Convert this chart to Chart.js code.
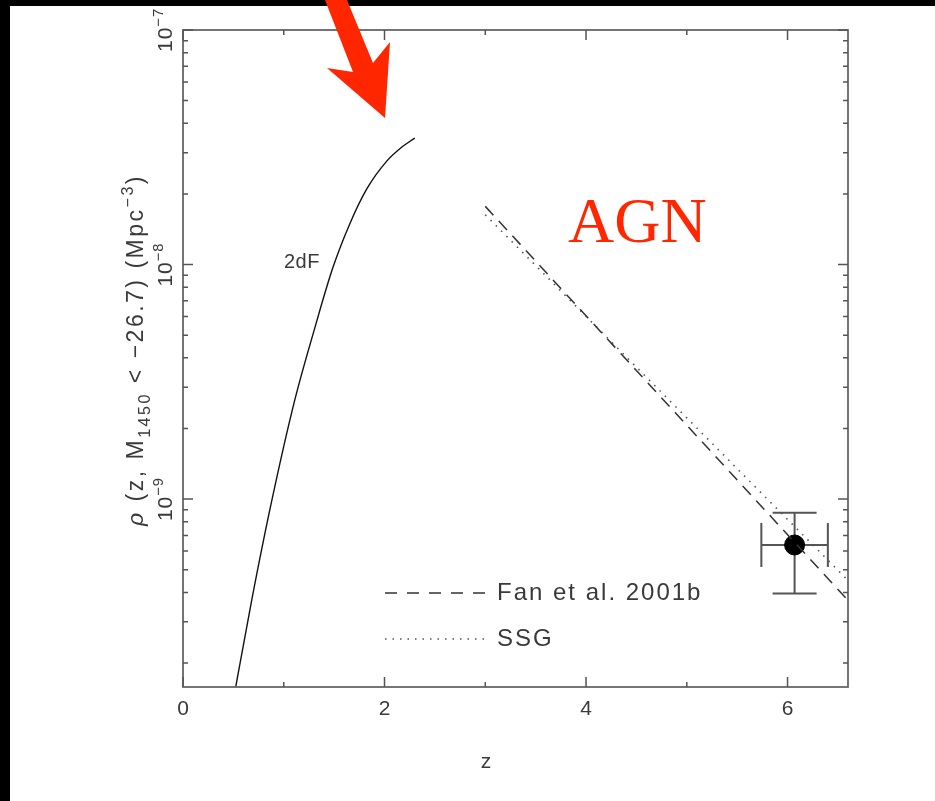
<!DOCTYPE html>
<html>
<head>
<meta charset="utf-8">
<title>QSO space density vs redshift</title>
<script src="https://cdn.jsdelivr.net/npm/chart.js@4.4.1/dist/chart.umd.min.js"></script>
<style>
    html, body { margin: 0; padding: 0; background: #fff; }
    canvas { display: block; }
</style>
</head>
<body>
<canvas id="chart" width="935" height="801"></canvas>
<script>
// 2dF curve
const zTwoDF   = [0.51, 0.523, 0.682, 0.880, 1.109, 1.299, 1.486, 1.655, 1.824, 2.022, 2.161, 2.300];
const rhoTwoDF = [1.47e-10, 1.58e-10, 3.71e-10, 9.79e-10, 2.64e-9, 5.20e-9, 9.66e-9, 1.49e-8, 2.10e-8, 2.76e-8, 3.14e-8, 3.46e-8];

// Fan et al. 2001b (dashed) and SSG (dotted)
const zFan   = [3.0, 6.6];
const rhoFan = [1.77e-8, 3.7e-10];
const zSSG   = [3.0, 6.6];
const rhoSSG = [1.63e-8, 4.5e-10];

// the z ~ 6 point with its error bars
const zPoint      = [6.07];
const rhoPoint    = [6.37e-10];
const zErrLow     = [5.74];
const zErrHigh    = [6.40];
const rhoErrLow   = [3.96e-10];
const rhoErrHigh  = [8.75e-10];

// axes
const xMin = 0, xMax = 6.6;
const yMin = 1.58e-10, yMax = 1e-7;
const xTicks      = [0, 1, 2, 3, 4, 5, 6];
const xTickLabels = ['0', '', '2', '', '4', '', '6'];
const yDecades    = [1e-9, 1e-8, 1e-7];
const yTickLabels = [['10', '\u22129'], ['10', '\u22128'], ['10', '\u22127']];

const fontFam = '"Liberation Sans", Arial, sans-serif';
const textColor = '#3a3a3a';

function partFont(kind, size) {
    const s = (kind === 'sub' || kind === 'sup') ? size * 0.7 : size;
    return (kind === 'it' ? 'italic ' : '') + s + 'px ' + fontFam;
}

// draws mixed text (with sub/superscripts) centred on 0 along the baseline
function drawRich(ctx, parts, size, spacing) {
    ctx.letterSpacing = spacing + 'px';
    let total = 0;
    const widths = parts.map(([t, k]) => {
        ctx.font = partFont(k, size);
        const w = ctx.measureText(t).width;
        total += w;
        return w;
    });
    let x = -total / 2;
    parts.forEach(([t, k], i) => {
        ctx.font = partFont(k, size);
        let dy = 0;
        if (k === 'sub') dy = size * 0.32;
        if (k === 'sup') dy = -size * 0.45;
        ctx.fillText(t, x, dy);
        x += widths[i];
    });
}

const framePlugin = {
    id: 'frame',
    beforeDraw(chart) {
        const ctx = chart.ctx;
        ctx.save();
        ctx.fillStyle = '#fff';
        ctx.fillRect(0, 0, chart.width, chart.height);
        ctx.fillStyle = '#000';
        ctx.fillRect(0, 0, chart.width, 6);
        ctx.fillRect(0, 0, 10, chart.height);
        ctx.restore();
    },
    beforeDatasetsDraw(chart) {
        const ctx = chart.ctx;
        const xs = chart.scales.x, ys = chart.scales.y;
        ctx.save();
        // error bars, under the filled point
        ctx.strokeStyle = '#555';
        ctx.lineWidth = 2;
        const cap = 22;
        zPoint.forEach((z, i) => {
            const px = xs.getPixelForValue(z), py = ys.getPixelForValue(rhoPoint[i]);
            const x1 = xs.getPixelForValue(zErrLow[i]), x2 = xs.getPixelForValue(zErrHigh[i]);
            const y1 = ys.getPixelForValue(rhoErrHigh[i]), y2 = ys.getPixelForValue(rhoErrLow[i]);
            ctx.beginPath();
            ctx.moveTo(x1, py); ctx.lineTo(x2, py);
            ctx.moveTo(px, y1); ctx.lineTo(px, y2);
            ctx.moveTo(x1, py - cap); ctx.lineTo(x1, py + cap);
            ctx.moveTo(x2, py - cap); ctx.lineTo(x2, py + cap);
            ctx.moveTo(px - cap, y1); ctx.lineTo(px + cap, y1);
            ctx.moveTo(px - cap, y2); ctx.lineTo(px + cap, y2);
            ctx.stroke();
        });
        ctx.restore();
    },
    afterDraw(chart) {
        const ctx = chart.ctx;
        const a = chart.chartArea;
        const xs = chart.scales.x, ys = chart.scales.y;
        ctx.save();

        // frame
        ctx.strokeStyle = '#666';
        ctx.lineWidth = 1.8;
        ctx.strokeRect(a.left, a.top, a.right - a.left, a.bottom - a.top);

        // ticks, inward on all four sides
        ctx.strokeStyle = '#555';
        ctx.lineWidth = 1.5;
        ctx.beginPath();
        xTicks.forEach((v, i) => {
            const px = xs.getPixelForValue(v);
            const len = xTickLabels[i] ? 10 : 5;
            ctx.moveTo(px, a.bottom); ctx.lineTo(px, a.bottom - len);
            ctx.moveTo(px, a.top); ctx.lineTo(px, a.top + len);
        });
        for (let e = -10; e <= -7; e++) {
            for (let m = 1; m <= 9; m++) {
                const v = m * Math.pow(10, e);
                if (v < yMin || v > yMax * 1.0001) continue;
                const py = ys.getPixelForValue(v);
                const len = m === 1 ? 10 : 5;
                ctx.moveTo(a.left, py); ctx.lineTo(a.left + len, py);
                ctx.moveTo(a.right, py); ctx.lineTo(a.right - len, py);
            }
        }
        ctx.stroke();

        ctx.fillStyle = textColor;
        ctx.textBaseline = 'alphabetic';
        ctx.textAlign = 'left';

        // x tick labels
        xTicks.forEach((v, i) => {
            if (!xTickLabels[i]) return;
            ctx.save();
            ctx.translate(xs.getPixelForValue(v), a.bottom + 28);
            drawRich(ctx, [[xTickLabels[i], 'n']], 21, 0);
            ctx.restore();
        });

        // y tick labels, rotated
        yDecades.forEach((v, i) => {
            ctx.save();
            ctx.translate(a.left - 11, ys.getPixelForValue(v));
            ctx.rotate(-Math.PI / 2);
            drawRich(ctx, [[yTickLabels[i][0], 'n'], [yTickLabels[i][1], 'sup']], 21, 1);
            ctx.restore();
        });

        // axis titles
        ctx.save();
        ctx.translate(486, 768);
        drawRich(ctx, [['z', 'n']], 21, 0);
        ctx.restore();

        ctx.save();
        ctx.translate(143, 350);
        ctx.rotate(-Math.PI / 2);
        drawRich(ctx, [['\u03c1', 'it'], [' (z, M', 'n'], ['1450', 'sub'], [' < \u221226.7) (Mpc', 'n'], ['\u22123', 'sup'], [')', 'n']], 23, 2.5);
        ctx.restore();

        // curve label
        ctx.letterSpacing = '0.5px';
        ctx.font = '20px ' + fontFam;
        ctx.fillText('2dF', 284, 268);

        // legend
        ctx.letterSpacing = '2px';
        ctx.font = '24px ' + fontFam;
        ctx.fillText('Fan et al. 2001b', 497, 600);
        ctx.fillText('SSG', 497, 646);
        ctx.strokeStyle = '#333';
        ctx.lineWidth = 1.5;
        ctx.setLineDash([12, 10]);
        ctx.beginPath(); ctx.moveTo(385, 593); ctx.lineTo(489, 593); ctx.stroke();
        ctx.strokeStyle = '#555';
        ctx.setLineDash([1.5, 6]);
        ctx.beginPath(); ctx.moveTo(385, 639); ctx.lineTo(489, 639); ctx.stroke();
        ctx.setLineDash([]);

        // red annotations
        ctx.letterSpacing = '0px';
        ctx.fillStyle = '#ff2600';
        ctx.font = '64px "Liberation Serif", "Times New Roman", serif';
        ctx.fillText('AGN', 568, 242);

        ctx.beginPath();
        ctx.moveTo(325, 0);
        ctx.lineTo(353, 72);
        ctx.lineTo(327, 68);
        ctx.lineTo(385, 118);
        ctx.lineTo(390, 42);
        ctx.lineTo(373, 63);
        ctx.lineTo(347, 0);
        ctx.closePath();
        ctx.fill();

        ctx.restore();
    }
};

const toPoints = (xs, ys) => xs.map((x, i) => ({ x: x, y: ys[i] }));

new Chart(document.getElementById('chart').getContext('2d'), {
    type: 'scatter',
    data: {
        datasets: [
            {
                label: '2dF',
                data: toPoints(zTwoDF, rhoTwoDF),
                showLine: true,
                borderColor: '#111',
                borderWidth: 1.4,
                pointRadius: 0,
                cubicInterpolationMode: 'monotone'
            },
            {
                label: 'Fan et al. 2001b',
                data: toPoints(zFan, rhoFan),
                showLine: true,
                borderColor: '#333',
                borderWidth: 1.5,
                borderDash: [12, 8],
                pointRadius: 0
            },
            {
                label: 'SSG',
                data: toPoints(zSSG, rhoSSG),
                showLine: true,
                borderColor: '#555',
                borderWidth: 1.6,
                borderDash: [1.5, 6],
                pointRadius: 0
            },
            {
                label: 'z~6',
                data: toPoints(zPoint, rhoPoint),
                showLine: false,
                pointRadius: 10,
                pointBackgroundColor: '#000',
                pointBorderColor: '#000'
            }
        ]
    },
    options: {
        responsive: false,
        animation: false,
        events: [],
        layout: {
            autoPadding: false,
            padding: { left: 183, top: 30, right: 87, bottom: 114 }
        },
        scales: {
            x: { type: 'linear', min: xMin, max: xMax, display: false },
            y: { type: 'logarithmic', min: yMin, max: yMax, display: false }
        },
        plugins: {
            legend: { display: false },
            tooltip: { enabled: false }
        }
    },
    plugins: [framePlugin]
});
</script>
</body>
</html>
